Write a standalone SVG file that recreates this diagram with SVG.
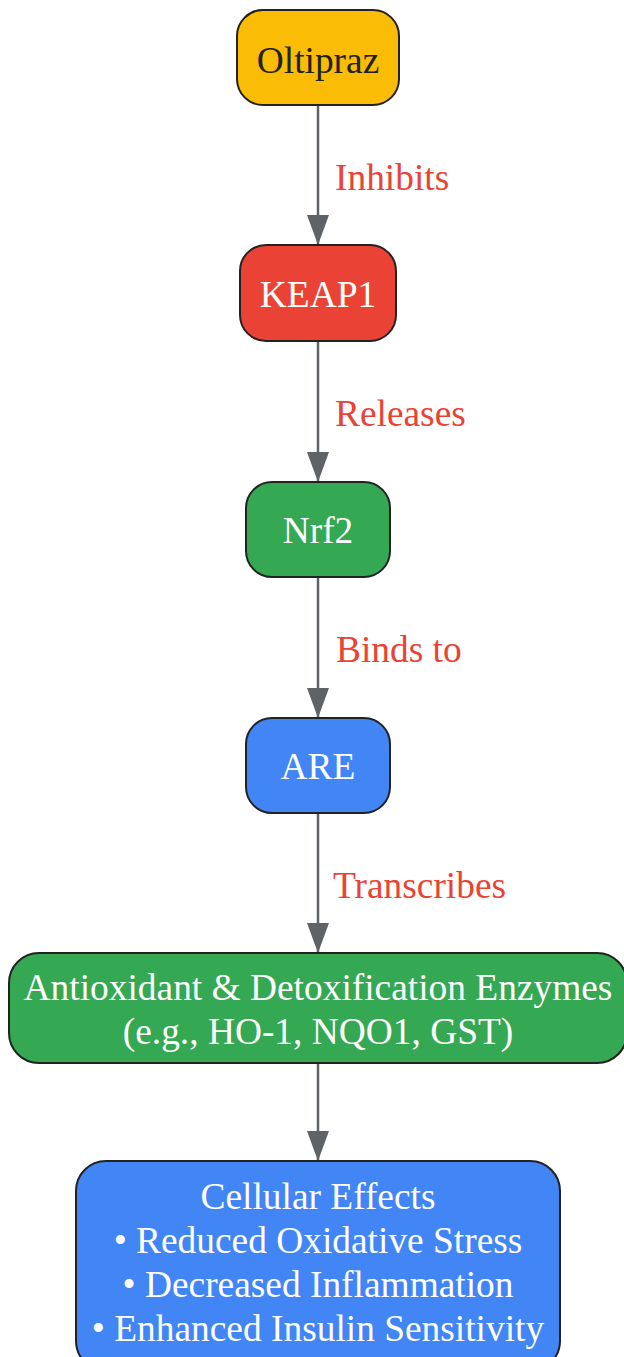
<svg xmlns="http://www.w3.org/2000/svg" width="624" height="1357" viewBox="0 0 624 1357">
<style>
.node rect{stroke:#222222;stroke-width:2}
.t{font-family:"Liberation Serif","Times New Roman",serif;font-size:37.4px;text-anchor:middle;fill:#ffffff}
.dark{fill:#222222}
.lbl{font-family:"Liberation Serif","Times New Roman",serif;font-size:37.4px;fill:#EA4335}
.edge{stroke:#5f6368;stroke-width:2.5;fill:none;marker-end:url(#ah)}
</style>
<defs>
<marker id="ah" viewBox="0 0 30 22" refX="29" refY="11" markerWidth="30" markerHeight="22" markerUnits="userSpaceOnUse" orient="auto">
<path d="M0,0 L30,11 L0,22 z" fill="#5f6368"/>
</marker>
</defs>
<g id="connectors">
<line class="edge" x1="318" y1="106" x2="318" y2="244"/>
<line class="edge" x1="318" y1="342" x2="318" y2="481"/>
<line class="edge" x1="318" y1="578" x2="318" y2="717"/>
<line class="edge" x1="318" y1="814" x2="318" y2="952"/>
<line class="edge" x1="318" y1="1064" x2="318" y2="1160"/>
<text class="lbl" x="335" y="190">Inhibits</text>
<text class="lbl" x="335" y="426">Releases</text>
<text class="lbl" x="336" y="662">Binds to</text>
<text class="lbl" x="333" y="898">Transcribes</text>
</g>
<g id="oltipraz" class="node">
<rect x="237" y="10" width="162" height="95" rx="26" fill="#FBBC05"/>
<text class="t dark" x="318" y="73">Oltipraz</text>
</g>
<g id="keap1" class="node">
<rect x="240" y="245" width="156" height="96" rx="26" fill="#EA4335"/>
<text class="t" x="318" y="307">KEAP1</text>
</g>
<g id="nrf2" class="node">
<rect x="246" y="482" width="144" height="95" rx="26" fill="#34A853"/>
<text class="t" x="318" y="543">Nrf2</text>
</g>
<g id="are" class="node">
<rect x="246" y="718" width="144" height="95" rx="26" fill="#4285F4"/>
<text class="t" x="318" y="779">ARE</text>
</g>
<g id="enzymes" class="node">
<rect x="9" y="953" width="618" height="110" rx="30" fill="#34A853"/>
<text class="t" x="318" y="1000">Antioxidant &amp; Detoxification Enzymes</text>
<text class="t" x="318" y="1044">(e.g., HO-1, NQO1, GST)</text>
</g>
<g id="effects" class="node">
<rect x="76" y="1161" width="484" height="210" rx="30" fill="#4285F4"/>
<text class="t" x="318" y="1209">Cellular Effects</text>
<text class="t" x="318" y="1253">• Reduced Oxidative Stress</text>
<text class="t" x="318" y="1297">• Decreased Inflammation</text>
<text class="t" x="318" y="1341">• Enhanced Insulin Sensitivity</text>
</g>
</svg>
